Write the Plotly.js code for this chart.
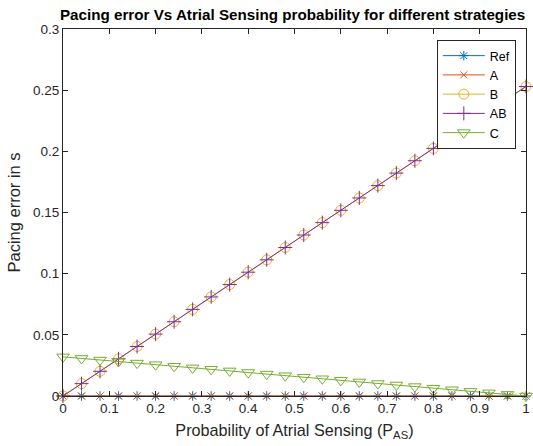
<!DOCTYPE html>
<html>
<head>
<meta charset="utf-8">
<script src="https://cdn.plot.ly/plotly-3.0.1.min.js"></script>
<style>html,body{margin:0;padding:0;background:#fff;}#chart{width:533px;height:446px;}</style>
</head>
<body>
<div id="chart"></div>
<script>
const pAS = [0, 0.04, 0.08, 0.12, 0.16, 0.20, 0.24, 0.28, 0.32, 0.36, 0.40, 0.44, 0.48, 0.52, 0.56, 0.60, 0.64, 0.68, 0.72, 0.76, 0.80, 0.84, 0.88, 0.92, 0.96, 1.00];
const refErr = [0,0,0,0,0,0,0,0,0,0,0,0,0,0,0,0,0,0,0,0,0,0,0,0,0,0];
const aErr = [0,0,0,0,0,0,0,0,0,0,0,0,0,0,0,0,0,0,0,0,0,0,0,0,0,0];
const bErr = [0, 0.0101, 0.0202, 0.0304, 0.0405, 0.0506, 0.0607, 0.0708, 0.0810, 0.0911, 0.1012, 0.1113, 0.1214, 0.1316, 0.1417, 0.1518, 0.1619, 0.1720, 0.1822, 0.1923, 0.2024, 0.2125, 0.2226, 0.2328, 0.2429, 0.2530];
const abErr = [0, 0.0101, 0.0202, 0.0304, 0.0405, 0.0506, 0.0607, 0.0708, 0.0810, 0.0911, 0.1012, 0.1113, 0.1214, 0.1316, 0.1417, 0.1518, 0.1619, 0.1720, 0.1822, 0.1923, 0.2024, 0.2125, 0.2226, 0.2328, 0.2429, 0.2530];
const cErr = [0.0320, 0.0307, 0.0294, 0.0282, 0.0269, 0.0256, 0.0243, 0.0230, 0.0218, 0.0205, 0.0192, 0.0179, 0.0166, 0.0154, 0.0141, 0.0128, 0.0115, 0.0102, 0.0090, 0.0077, 0.0064, 0.0051, 0.0038, 0.0026, 0.0013, 0];
const seriesNames = ["Ref", "A", "B", "AB", "C"];
const xTicks = [0, 0.1, 0.2, 0.3, 0.4, 0.5, 0.6, 0.7, 0.8, 0.9, 1];
const yTicks = [0, 0.05, 0.1, 0.15, 0.2, 0.25, 0.3];

const styles = [
  {color: "#0072BD", symbol: "asterisk-open", size: 8},
  {color: "#D95319", symbol: "x-thin-open", size: 7},
  {color: "#EDB120", symbol: "circle-open", size: 10},
  {color: "#7E2F8E", symbol: "cross-thin-open", size: 10},
  {color: "#77AC30", symbol: "triangle-down-open", size: 11}
];
const ys = [refErr, aErr, bErr, abErr, cErr];
const traces = ys.map((y, i) => ({
  x: pAS, y: y, name: seriesNames[i], type: "scatter", mode: "lines+markers",
  cliponaxis: false,
  line: {color: styles[i].color, width: 1},
  marker: {symbol: styles[i].symbol, size: styles[i].size, color: styles[i].color,
           line: {color: styles[i].color, width: 1}}
}));

const FONT = "Liberation Sans, Arial, sans-serif";
const axisCommon = {
  showgrid: false, zeroline: false, showline: true, mirror: "ticks",
  linecolor: "#262626", linewidth: 1, ticks: "inside", ticklen: 5,
  tickcolor: "#262626", tickwidth: 1,
  tickfont: {family: FONT, size: 13.5, color: "#262626"}
};

const layout = {
  width: 533, height: 446,
  margin: {l: 63, r: 7, t: 29, b: 50},
  paper_bgcolor: "#fff", plot_bgcolor: "#fff",
  title: {text: "<b>Pacing error Vs Atrial Sensing probability for different strategies</b>",
          font: {family: FONT, size: 15.2, color: "#000"},
          x: 0.549, xanchor: "center", y: 0.968, yanchor: "middle"},
  xaxis: Object.assign({}, axisCommon, {range: [0, 1], tickvals: xTicks, ticktext: xTicks.map(String),
    title: {text: "Probability of Atrial Sensing (P<sub>AS</sub>)", standoff: 9,
            font: {family: FONT, size: 16.2, color: "#262626"}}}),
  yaxis: Object.assign({}, axisCommon, {range: [0, 0.3], tickvals: yTicks, ticktext: yTicks.map(String),
    title: {text: "Pacing error in s", standoff: 8,
            font: {family: FONT, size: 16.5, color: "#262626"}}}),
  showlegend: true,
  legend: {x: 0.978, xanchor: "right", y: 0.97, yanchor: "top",
           bgcolor: "#fff", bordercolor: "#262626", borderwidth: 1,
           itemwidth: 42, tracegroupgap: 0,
           font: {family: FONT, size: 12.5, color: "#000"}}
};

Plotly.newPlot("chart", traces, layout, {staticPlot: true, displayModeBar: false});
</script>
</body>
</html>
